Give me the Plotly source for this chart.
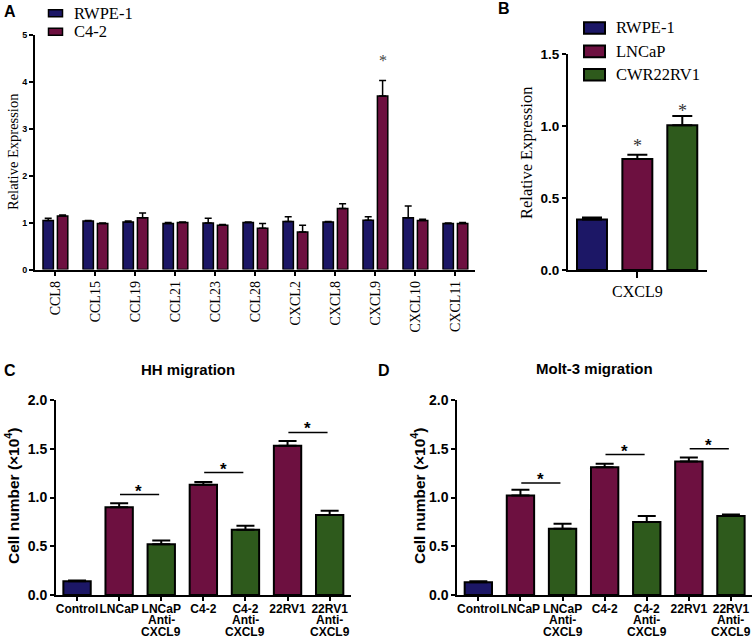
import plotly.graph_objects as go

W, H = 756, 640
SERIF = "Liberation Serif, Times New Roman, serif"
SANS = "Liberation Sans, Arial, sans-serif"
NAVY = "#1c1766"
MAROON = "#6d1040"
GREEN = "#2e5a1c"

# ---------------- Panel A data ----------------
a_categories = ["CCL8", "CCL15", "CCL19", "CCL21", "CCL23", "CCL28",
                "CXCL2", "CXCL8", "CXCL9", "CXCL10", "CXCL11"]
a_series = ["RWPE-1", "C4-2"]
a_rwpe = [1.04, 1.03, 1.01, 0.98, 0.99, 1.00, 1.02, 1.01, 1.05, 1.10, 0.98]
a_rwpe_err = [0.05, 0.01, 0.02, 0.02, 0.10, 0.01, 0.10, 0.01, 0.07, 0.25, 0.01]
a_c42 = [1.14, 0.98, 1.10, 1.00, 0.94, 0.88, 0.80, 1.30, 3.69, 1.04, 0.98]
a_c42_err = [0.02, 0.01, 0.10, 0.01, 0.02, 0.10, 0.14, 0.10, 0.33, 0.03, 0.02]
a_star_cat = ["CXCL9"]
a_star_y = [4.31]

# ---------------- Panel B data ----------------
b_category = ["CXCL9"]
b_groups = ["RWPE-1", "LNCaP", "CWR22RV1"]
b_values = [0.35, 0.77, 1.005]
b_err = [0.015, 0.03, 0.065]
b_star_y = [None, 0.88, 1.125]

# ---------------- Panels C & D data ----------------
cd_line1 = ["Control", "LNCaP", "LNCaP", "C4-2", "C4-2", "22RV1", "22RV1"]
cd_line2 = ["", "", "Anti-", "", "Anti-", "", "Anti-"]
cd_line3 = ["", "", "CXCL9", "", "CXCL9", "", "CXCL9"]
cd_colors = [NAVY, MAROON, GREEN, MAROON, GREEN, MAROON, GREEN]
c_values = [0.14, 0.90, 0.52, 1.13, 0.67, 1.53, 0.82]
c_err = [0.01, 0.04, 0.04, 0.03, 0.04, 0.05, 0.045]
d_values = [0.13, 1.02, 0.68, 1.31, 0.75, 1.37, 0.81]
d_err = [0.01, 0.06, 0.05, 0.035, 0.06, 0.04, 0.015]
sig_pairs = [(1, 2), (3, 4), (5, 6)]
c_sig_y = [1.03, 1.256, 1.667]
d_sig_y = [1.148, 1.44, 1.50]

fig = go.Figure()

# Panel A bars
a_width = 0.26
a_colors = [NAVY, MAROON]
for name, vals, errs, color, off in [(a_series[0], a_rwpe, a_rwpe_err, a_colors[0], -0.30),
                                     (a_series[1], a_c42, a_c42_err, a_colors[1], 0.06)]:
    fig.add_trace(go.Bar(
        x=a_categories, y=vals, name=name, width=a_width, offset=off,
        marker=dict(color=color, line=dict(color="black", width=1.5)),
        error_y=dict(type="data", array=errs, arrayminus=[0] * len(errs), symmetric=False,
                     color="black", thickness=1.5, width=3.5),
        xaxis="x", yaxis="y", showlegend=False,
    ))

# Panel B bars
b_width = 0.216
b_offsets = [-0.435, -0.108, 0.216]
b_colors = [NAVY, MAROON, GREEN]
for name, val, err, color, off in zip(b_groups, b_values, b_err, b_colors, b_offsets):
    fig.add_trace(go.Bar(
        x=b_category, y=[val], name=name, width=b_width, offset=off,
        marker=dict(color=color, line=dict(color="black", width=2)),
        error_y=dict(type="data", array=[err], arrayminus=[0], symmetric=False,
                     color="black", thickness=2, width=10),
        xaxis="x2", yaxis="y2", showlegend=False,
    ))

# Panels C and D
for vals, errs, xa, ya in [(c_values, c_err, "x3", "y3"), (d_values, d_err, "x4", "y4")]:
    fig.add_trace(go.Bar(
        x=list(range(len(vals))), y=vals, width=0.65,
        marker=dict(color=cd_colors, line=dict(color="black", width=2)),
        error_y=dict(type="data", array=errs, arrayminus=[0] * len(errs), symmetric=False,
                     color="black", thickness=2, width=9),
        xaxis=xa, yaxis=ya, showlegend=False,
    ))


def px2x(px):
    return px / W


def px2y(py):
    return 1 - py / H


axis_common = dict(showline=True, linecolor="black", linewidth=2, ticks="outside",
                   tickcolor="black", tickwidth=1.5, ticklen=4, showgrid=False,
                   zeroline=False, automargin=False, fixedrange=True)

cd_xfont = dict(family=SANS, size=12, color="black", weight="bold")

fig.update_layout(
    width=W, height=H, margin=dict(l=0, r=0, t=0, b=0, autoexpand=False),
    paper_bgcolor="white", plot_bgcolor="white", barmode="group", showlegend=False,
    xaxis=dict(domain=[px2x(35), px2x(475)], anchor="y", type="category",
               range=[-0.5, 10.5], tickangle=-90,
               tickfont=dict(family=SERIF, size=14, color="black"), **axis_common),
    yaxis=dict(domain=[px2y(269.5), px2y(34.5)], anchor="x", range=[0, 5], dtick=1,
               tickfont=dict(family=SANS, size=9, color="black", weight="bold"), **axis_common),
    xaxis2=dict(domain=[px2x(568), px2x(706.7)], anchor="y2", type="category",
                range=[-0.5, 0.5], ticklen=6,
                tickfont=dict(family=SERIF, size=16, color="black"),
                **{k: v for k, v in axis_common.items() if k != "ticklen"}),
    yaxis2=dict(domain=[px2y(270), px2y(54)], anchor="x2", range=[0, 1.5], dtick=0.5,
                tickformat=".1f",
                tickfont=dict(family=SANS, size=13.5, color="black", weight="bold"), **axis_common),
    xaxis3=dict(domain=[px2x(56), px2x(350.7)], anchor="y3", range=[-0.5, 6.5],
                tickvals=list(range(7)), ticktext=cd_line1, tickangle=0, ticklabelstandoff=-2,
                tickfont=cd_xfont, **axis_common),
    yaxis3=dict(domain=[px2y(595), px2y(400)], anchor="x3", range=[0, 2], dtick=0.5,
                tickformat=".1f",
                tickfont=dict(family=SANS, size=14, color="black", weight="bold"), **axis_common),
    xaxis4=dict(domain=[px2x(457.3), px2x(752)], anchor="y4", range=[-0.5, 6.5],
                tickvals=list(range(7)), ticktext=cd_line1, tickangle=0, ticklabelstandoff=-2,
                tickfont=cd_xfont, **axis_common),
    yaxis4=dict(domain=[px2y(595), px2y(400)], anchor="x4", range=[0, 2], dtick=0.5,
                tickformat=".1f",
                tickfont=dict(family=SANS, size=14, color="black", weight="bold"), **axis_common),
)

ann = []
shapes = []


def paper_text(text, x, y, font, angle=0, xanchor="center"):
    ann.append(dict(text=text, x=px2x(x), y=px2y(y), xref="paper", yref="paper",
                    xanchor=xanchor, yanchor="middle", textangle=angle,
                    showarrow=False, font=font))


# Panel letters
for letter, x, y in [("A", 10, 11), ("B", 504, 9), ("C", 10, 370), ("D", 384, 370)]:
    paper_text(letter, x, y, dict(family=SANS, size=16, color="black", weight="bold"))
# Axis titles
paper_text("Relative Expression", 13, 152, dict(family=SERIF, size=14.5, color="black"), -90)
paper_text("Relative Expression", 527, 153, dict(family=SERIF, size=16.5, color="black"), -90)
for x in [12, 418]:
    paper_text("Cell number (×10<sup>4</sup>)", x, 496,
               dict(family=SANS, size=15.5, color="black", weight="bold"), -90)
# Titles C & D
paper_text("HH migration", 188, 369, dict(family=SANS, size=15, color="black", weight="bold"))
paper_text("Molt-3 migration", 594, 368, dict(family=SANS, size=15, color="black", weight="bold"))

# Legends (keys drawn as small boxes next to the series names)
for k, (name, color) in enumerate(zip(a_series, a_colors)):
    yc = 13.3 + k * 18.4
    shapes.append(dict(type="rect", xref="paper", yref="paper",
                       x0=px2x(48.5), x1=px2x(62.5), y0=px2y(yc + 3.5), y1=px2y(yc - 3.5),
                       fillcolor=color, line=dict(color="black", width=1.5)))
    paper_text(name, 71.5, yc, dict(family=SERIF, size=16.5, color="black"), xanchor="left")
for k, (name, color) in enumerate(zip(b_groups, b_colors)):
    yc = 28 + k * 23.4
    shapes.append(dict(type="rect", xref="paper", yref="paper",
                       x0=px2x(584), x1=px2x(605), y0=px2y(yc + 5.8), y1=px2y(yc - 5.8),
                       fillcolor=color, line=dict(color="black", width=2)))
    paper_text(name, 614, yc, dict(family=SERIF, size=16.5, color="black"), xanchor="left")

# Extra tick-label lines for C & D
for xr in ["x3", "x4"]:
    for i, (l2, l3) in enumerate(zip(cd_line2, cd_line3)):
        for txt, yy in [(l2, 619.5), (l3, 632)]:
            if txt:
                ann.append(dict(text=txt, x=i, y=px2y(yy), xref=xr, yref="paper",
                                xanchor="center", yanchor="middle", showarrow=False,
                                font=cd_xfont))

# Stars panel A (above C4-2 bar)
for cat, sy in zip(a_star_cat, a_star_y):
    ann.append(dict(text="*", x=a_categories.index(cat) + 0.06 + a_width / 2, y=sy,
                    xref="x", yref="y", xanchor="center", yanchor="middle", yshift=6,
                    showarrow=False, font=dict(family=SERIF, size=16, color="#444444")))
# Stars panel B
for off, sy in zip(b_offsets, b_star_y):
    if sy is None:
        continue
    ann.append(dict(text="*", x=off + b_width / 2, y=sy, xref="x2", yref="y2",
                    xanchor="center", yanchor="middle", yshift=-3,
                    showarrow=False, font=dict(family=SERIF, size=18, color="#333333")))
# Significance lines and stars C & D
for sig_y, xr, yr in [(c_sig_y, "x3", "y3"), (d_sig_y, "x4", "y4")]:
    for (i, j), yy in zip(sig_pairs, sig_y):
        shapes.append(dict(type="line", xref=xr, yref=yr, x0=i + 0.02, x1=j - 0.05,
                           y0=yy, y1=yy, line=dict(color="black", width=1.5)))
        ann.append(dict(text="*", x=(i + j) / 2 - 0.03, y=yy, xref=xr, yref=yr,
                        xanchor="center", yanchor="bottom",
                        showarrow=False, yshift=-8,
                        font=dict(family=SANS, size=17, color="black", weight="bold")))

fig.update_layout(annotations=ann, shapes=shapes)
fig.write_html("out.html", config={"displayModeBar": False},
               post_script="document.body.style.margin='0';document.body.style.overflow='hidden';")
